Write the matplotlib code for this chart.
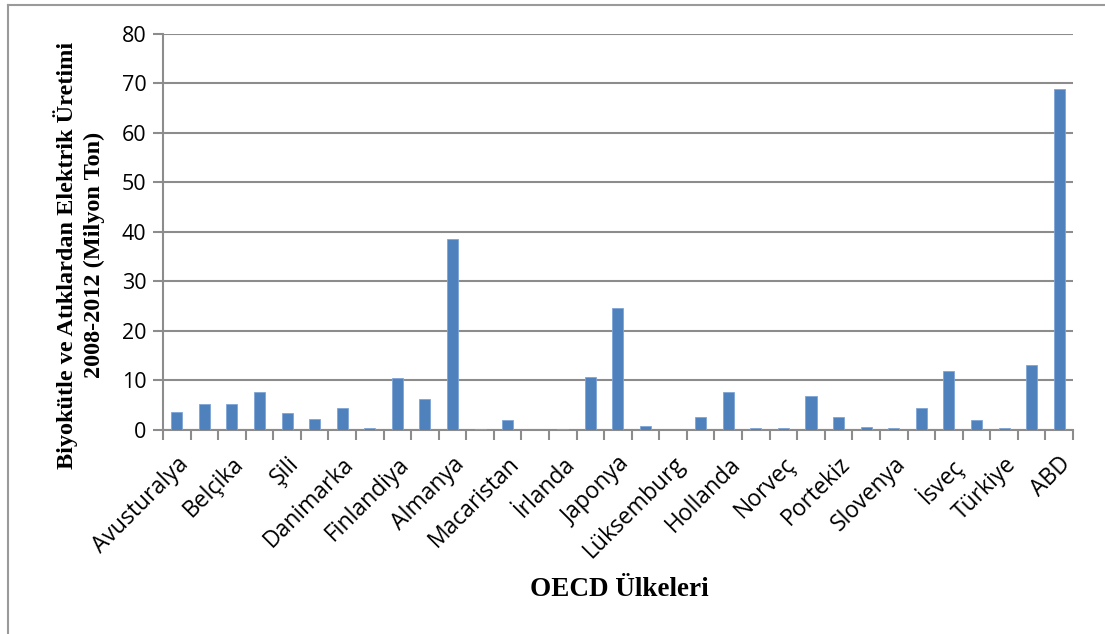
import matplotlib
matplotlib.use('Agg')
from matplotlib import pyplot as plt
from matplotlib.lines import Line2D
import numpy as np

# OECD countries (every other one is labelled on the axis)
countries = ['Avusturalya', 'Avusturya', 'Belçika', 'Kanada', 'Şili', 'Çek Cumhuriyeti',
             'Danimarka', 'Estonya', 'Finlandiya', 'Fransa', 'Almanya', 'Yunanistan',
             'Macaristan', 'İzlanda', 'İrlanda', 'İtalya', 'Japonya', 'Kore',
             'Lüksemburg', 'Meksika', 'Hollanda', 'Yeni Zelanda', 'Norveç', 'Polonya',
             'Portekiz', 'Slovakya', 'Slovenya', 'İspanya', 'İsveç', 'İsviçre',
             'Türkiye', 'Birleşik Krallık', 'ABD']
values = [3.6, 5.15, 5.3, 7.7, 3.5, 2.3, 4.5, 0.5, 10.5, 6.2, 38.5, 0.2,
          2.0, 0.0, 0.2, 10.8, 24.7, 0.9, 0.0, 2.6, 7.6, 0.5, 0.3, 6.8,
          2.7, 0.65, 0.3, 4.5, 12.0, 2.1, 0.3, 13.2, 68.8]
yticks = [0, 10, 20, 30, 40, 50, 60, 70, 80]

ylabel = 'Biyokütle ve Atıklardan Elektrik Üretimi\n2008-2012 (Milyon Ton)'
xlabel = 'OECD Ülkeleri'

grey = '#8c8c8c'

fig = plt.figure(figsize=(11.05, 6.34), dpi=100)
ax = fig.add_axes([0.1475, 0.3218, 0.971 - 0.1475, 0.9464 - 0.3218])

x = np.arange(len(countries))
ax.bar(x, values, width=0.4, color='#4F81BD', edgecolor='#7fa5d6', linewidth=0.6, zorder=3)

ax.set_xlim(-0.5, len(countries) - 0.5)
ax.set_ylim(0, 80)
ax.set_yticks(yticks)
ax.set_yticklabels([str(v) for v in yticks], fontsize=15.5, family='Open Sans')
ax.yaxis.grid(True, color=grey, linewidth=1.5, zorder=0)

# category boundary ticks, labels on every other category
ax.set_xticks(np.arange(-0.5, len(countries) + 0.5, 1))
ax.set_xticklabels([])
ax.set_xticks(x[::2], minor=True)
ax.set_xticklabels(countries[::2], minor=True, rotation=45, ha='right', va='top',
                   rotation_mode='anchor', fontsize=16.5, family='Open Sans')
ax.tick_params(axis='x', which='major', length=7, width=1.5, color=grey, direction='out')
ax.tick_params(axis='x', which='minor', length=0, pad=16)
ax.tick_params(axis='y', length=7, width=1.5, color=grey, direction='out', pad=5)

for s in ['top', 'right']:
    ax.spines[s].set_visible(False)
for s in ['left', 'bottom']:
    ax.spines[s].set_color(grey)
    ax.spines[s].set_linewidth(1.5)

fig.text(79 / 1105, 1 - 255 / 634, ylabel, rotation=90, fontsize=17.5, fontweight='bold',
         family='Liberation Serif', ha='center', va='center', multialignment='center',
         linespacing=1.35)
fig.text(619 / 1105, 1 - 590 / 634, xlabel, fontsize=19.5, fontweight='bold',
         family='Liberation Serif', ha='center', va='center')

# outer chart frame (top and left edges visible)
fig.add_artist(Line2D([8 / 1105, 1], [1 - 5 / 634, 1 - 5 / 634], color='#9a9a9a', linewidth=1.5))
fig.add_artist(Line2D([8 / 1105, 8 / 1105], [0, 1 - 5 / 634], color='#9a9a9a', linewidth=1.5))

fig.savefig('out.png', dpi=100)
